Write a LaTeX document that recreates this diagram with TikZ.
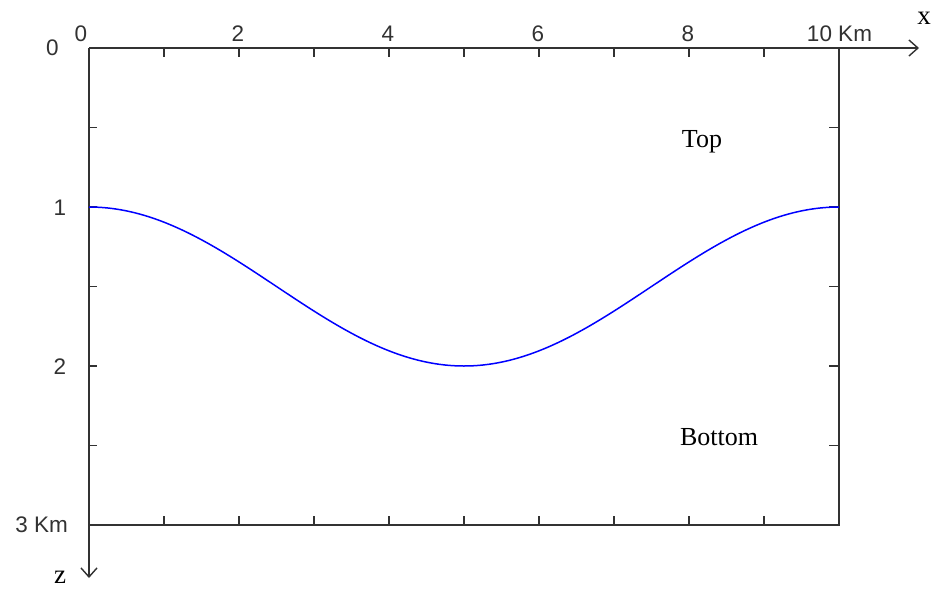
\documentclass[tikz,border=0pt]{standalone}
\usepackage{fontspec}
\setmainfont{Liberation Serif}
\newfontfamily\axfont{Liberation Sans}
\usetikzlibrary{arrows.meta}
\definecolor{axgray}{RGB}{50,50,50}
\tikzset{
  frameline/.style={draw=axgray, line width=1.8pt},
  tickline/.style={draw=axgray, line width=1.6pt},
  axisarrow/.style={draw=axgray, line width=1.4pt, -{Straight Barb[length=9pt,width=16pt,line width=1.4pt]}},
  ticklabel/.style={font=\axfont\fontsize{22.5}{24}\selectfont, text=axgray, inner sep=0pt},
  zonelabel/.style={font=\fontsize{26}{28}\selectfont, inner sep=0pt},
  axname/.style={font=\fontsize{27}{28}\selectfont, inner sep=0pt},
  curve/.style={draw=blue, line width=1.5pt}
}
\begin{document}
\begin{tikzpicture}[x=1pt,y=-1pt]
\useasboundingbox (0,0) rectangle (935,590);
\fill[white] (0,0) rectangle (935,590);
% corners
\coordinate (tl) at (89,48);
\coordinate (tr) at (839,48);
\coordinate (bl) at (89,525);
\coordinate (br) at (839,525);
\coordinate (xend) at (919,48);
\coordinate (zend) at (89,578);
% frame and axes
\draw[frameline] (tr) -- (br) -- (bl);
\draw[axisarrow] (tl) -- (xend);
\draw[axisarrow] (tl) -- (zend);
% ticks on top and bottom edges
\foreach \k in {1,...,9}{
  \coordinate (tt\k) at ({89+75*\k},48);
  \coordinate (bt\k) at ({89+75*\k},525);
  \draw[tickline] (tt\k) -- ++(0,9);
  \draw[tickline] (bt\k) -- ++(0,-9);
}
% ticks on left and right edges
\foreach \z/\n in {0.5/a,1/b,1.5/c,2/d,2.5/e}{
  \coordinate (lt\n) at (89,{48+159*\z});
  \coordinate (rt\n) at (839,{48+159*\z});
  \draw[tickline] (lt\n) -- ++(8,0);
  \draw[tickline] (rt\n) -- ++(-10,0);
}
% interface curve
\draw[curve] plot[domain=0:10, samples=121, smooth] ({89+75*\x},{48+159*(1.5-0.5*cos(36*\x))});
% x labels
\node[ticklabel] (x0) at (81,34) {0};
\node[ticklabel] (x2) at (238,34) {2};
\node[ticklabel] (x4) at (388,34) {4};
\node[ticklabel] (x6) at (538,34) {6};
\node[ticklabel] (x8) at (688,34) {8};
\node[ticklabel] (x10) at (839.5,34) {10 Km};
% z labels
\node[ticklabel] (z0) at (52.5,48) {0};
\node[ticklabel] (z1) at (60,207.5) {1};
\node[ticklabel] (z2) at (60,366.5) {2};
\node[ticklabel, anchor=east] (z3) at (68,525) {3 Km};
% axis names
\node[axname] (xn) at (924,18) {x};
\node[axname] (zn) at (60,577) {z};
% zones
\node[zonelabel] (top) at (702,142) {Top};
\node[zonelabel] (bot) at (719,437) {Bottom};
\end{tikzpicture}
\end{document}
